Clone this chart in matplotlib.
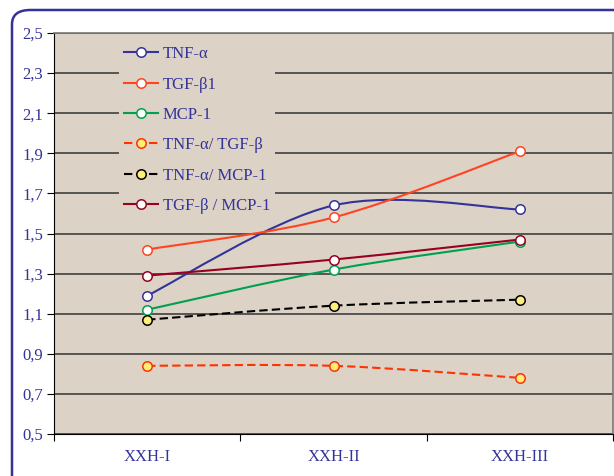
import numpy as np
import matplotlib
matplotlib.use("Agg")
import matplotlib.pyplot as plt
from matplotlib.path import Path
from matplotlib.patches import PathPatch, FancyBboxPatch
from matplotlib.lines import Line2D

groups = ["XXH-I", "XXH-II", "XXH-III"]
tnf_a = [1.19, 1.64, 1.62]
tgf_b1 = [1.42, 1.58, 1.91]
mcp_1 = [1.12, 1.32, 1.46]
tnf_tgf = [0.84, 0.84, 0.78]
tnf_mcp = [1.07, 1.14, 1.17]
tgf_mcp = [1.29, 1.37, 1.47]
yticks = [0.5, 0.7, 0.9, 1.1, 1.3, 1.5, 1.7, 1.9, 2.1, 2.3, 2.5]

navy = "#333399"
bg = "#dcd2c6"

series = [
    ("TNF-α", tnf_a, navy, "-", "white"),
    ("TGF-β1", tgf_b1, "#ff4422", "-", "white"),
    ("MCP-1", mcp_1, "#00a050", "-", "white"),
    ("TNF-α/ TGF-β", tnf_tgf, "#ff3300", (0, (4, 2)), "#ffee77"),
    ("TNF-α/ MCP-1", tnf_mcp, "black", (0, (4, 2)), "#ffee77"),
    ("TGF-β / MCP-1", tgf_mcp, "#990022", "-", "white"),
]


def smooth_path(xs, ys):
    # excel-like smoothed line: cubic bezier segments through the points
    pts = np.column_stack([xs, ys]).astype(float)
    n = len(pts)
    verts = [pts[0]]
    codes = [Path.MOVETO]
    for i in range(n - 1):
        p_prev = pts[i - 1] if i > 0 else pts[i]
        p_next = pts[i + 2] if i + 2 < n else pts[i + 1]
        c1 = pts[i] + (pts[i + 1] - p_prev) / 6
        c2 = pts[i + 1] - (p_next - pts[i]) / 6
        verts += [c1, c2, pts[i + 1]]
        codes += [Path.CURVE4] * 3
    return Path(verts, codes)


plt.rcParams["font.family"] = ["Liberation Serif", "DejaVu Serif"]

fig = plt.figure(figsize=(6.14, 4.76), dpi=100)
ax = fig.add_axes([54 / 614, 42 / 476, 559 / 614, 401 / 476])
ax.set_facecolor(bg)

x = np.arange(len(groups)) + 0.5
handles = []
for label, vals, col, ls, mfc in series:
    ax.add_patch(PathPatch(smooth_path(x, vals), facecolor="none", edgecolor=col,
                           lw=1.5, linestyle=ls, zorder=3))
    ax.plot(x, vals, ls="none", marker="o", ms=6.8, mfc=mfc, mec=col, mew=1.1, zorder=4)
    handles.append(Line2D([], [], color=col, lw=1.5, linestyle=ls, marker="o",
                          ms=6.8, mfc=mfc, mec=col, mew=1.1))

ax.set_xlim(0, 3)
ax.set_ylim(0.5, 2.5)
ax.set_yticks(yticks)
ax.set_yticklabels([f"{v:.1f}".replace(".", ",") for v in yticks])
ax.set_xticks([0, 1, 2, 3])
ax.set_xticklabels([])
ax.set_xticks(x, minor=True)
ax.set_xticklabels(groups, minor=True)
ax.tick_params(axis="x", which="minor", length=0, pad=11, labelsize=12, labelcolor=navy)
ax.tick_params(axis="x", which="major", length=5, direction="out", color="black")
ax.tick_params(axis="y", length=5, direction="out", labelsize=12, labelcolor=navy, pad=3)

ax.yaxis.grid(True, color="#333333", lw=1.1, zorder=1)
ax.set_axisbelow(True)
for s in ["top", "right"]:
    ax.spines[s].set_color("#777777")
    ax.spines[s].set_linewidth(1.2)
for s in ["left", "bottom"]:
    ax.spines[s].set_color("black")

leg = ax.legend(handles, [s[0] for s in series], loc="upper left",
                bbox_to_anchor=(0.102, 1.0), frameon=True, fancybox=False,
                facecolor=bg, edgecolor=bg, framealpha=1, fontsize=12,
                labelcolor=navy, labelspacing=0.86, handlelength=2.0,
                handletextpad=0.3, borderpad=0.3)
leg.get_frame().set_linewidth(0)

frame = FancyBboxPatch((12 / 614, -20 / 476), 640 / 614, 486 / 476,
                       boxstyle="round,pad=0,rounding_size=0.03",
                       transform=fig.transFigure, facecolor="none",
                       edgecolor=navy, lw=1.8, clip_on=False, zorder=0)
fig.patches.append(frame)

fig.savefig("out.png", dpi=100)
